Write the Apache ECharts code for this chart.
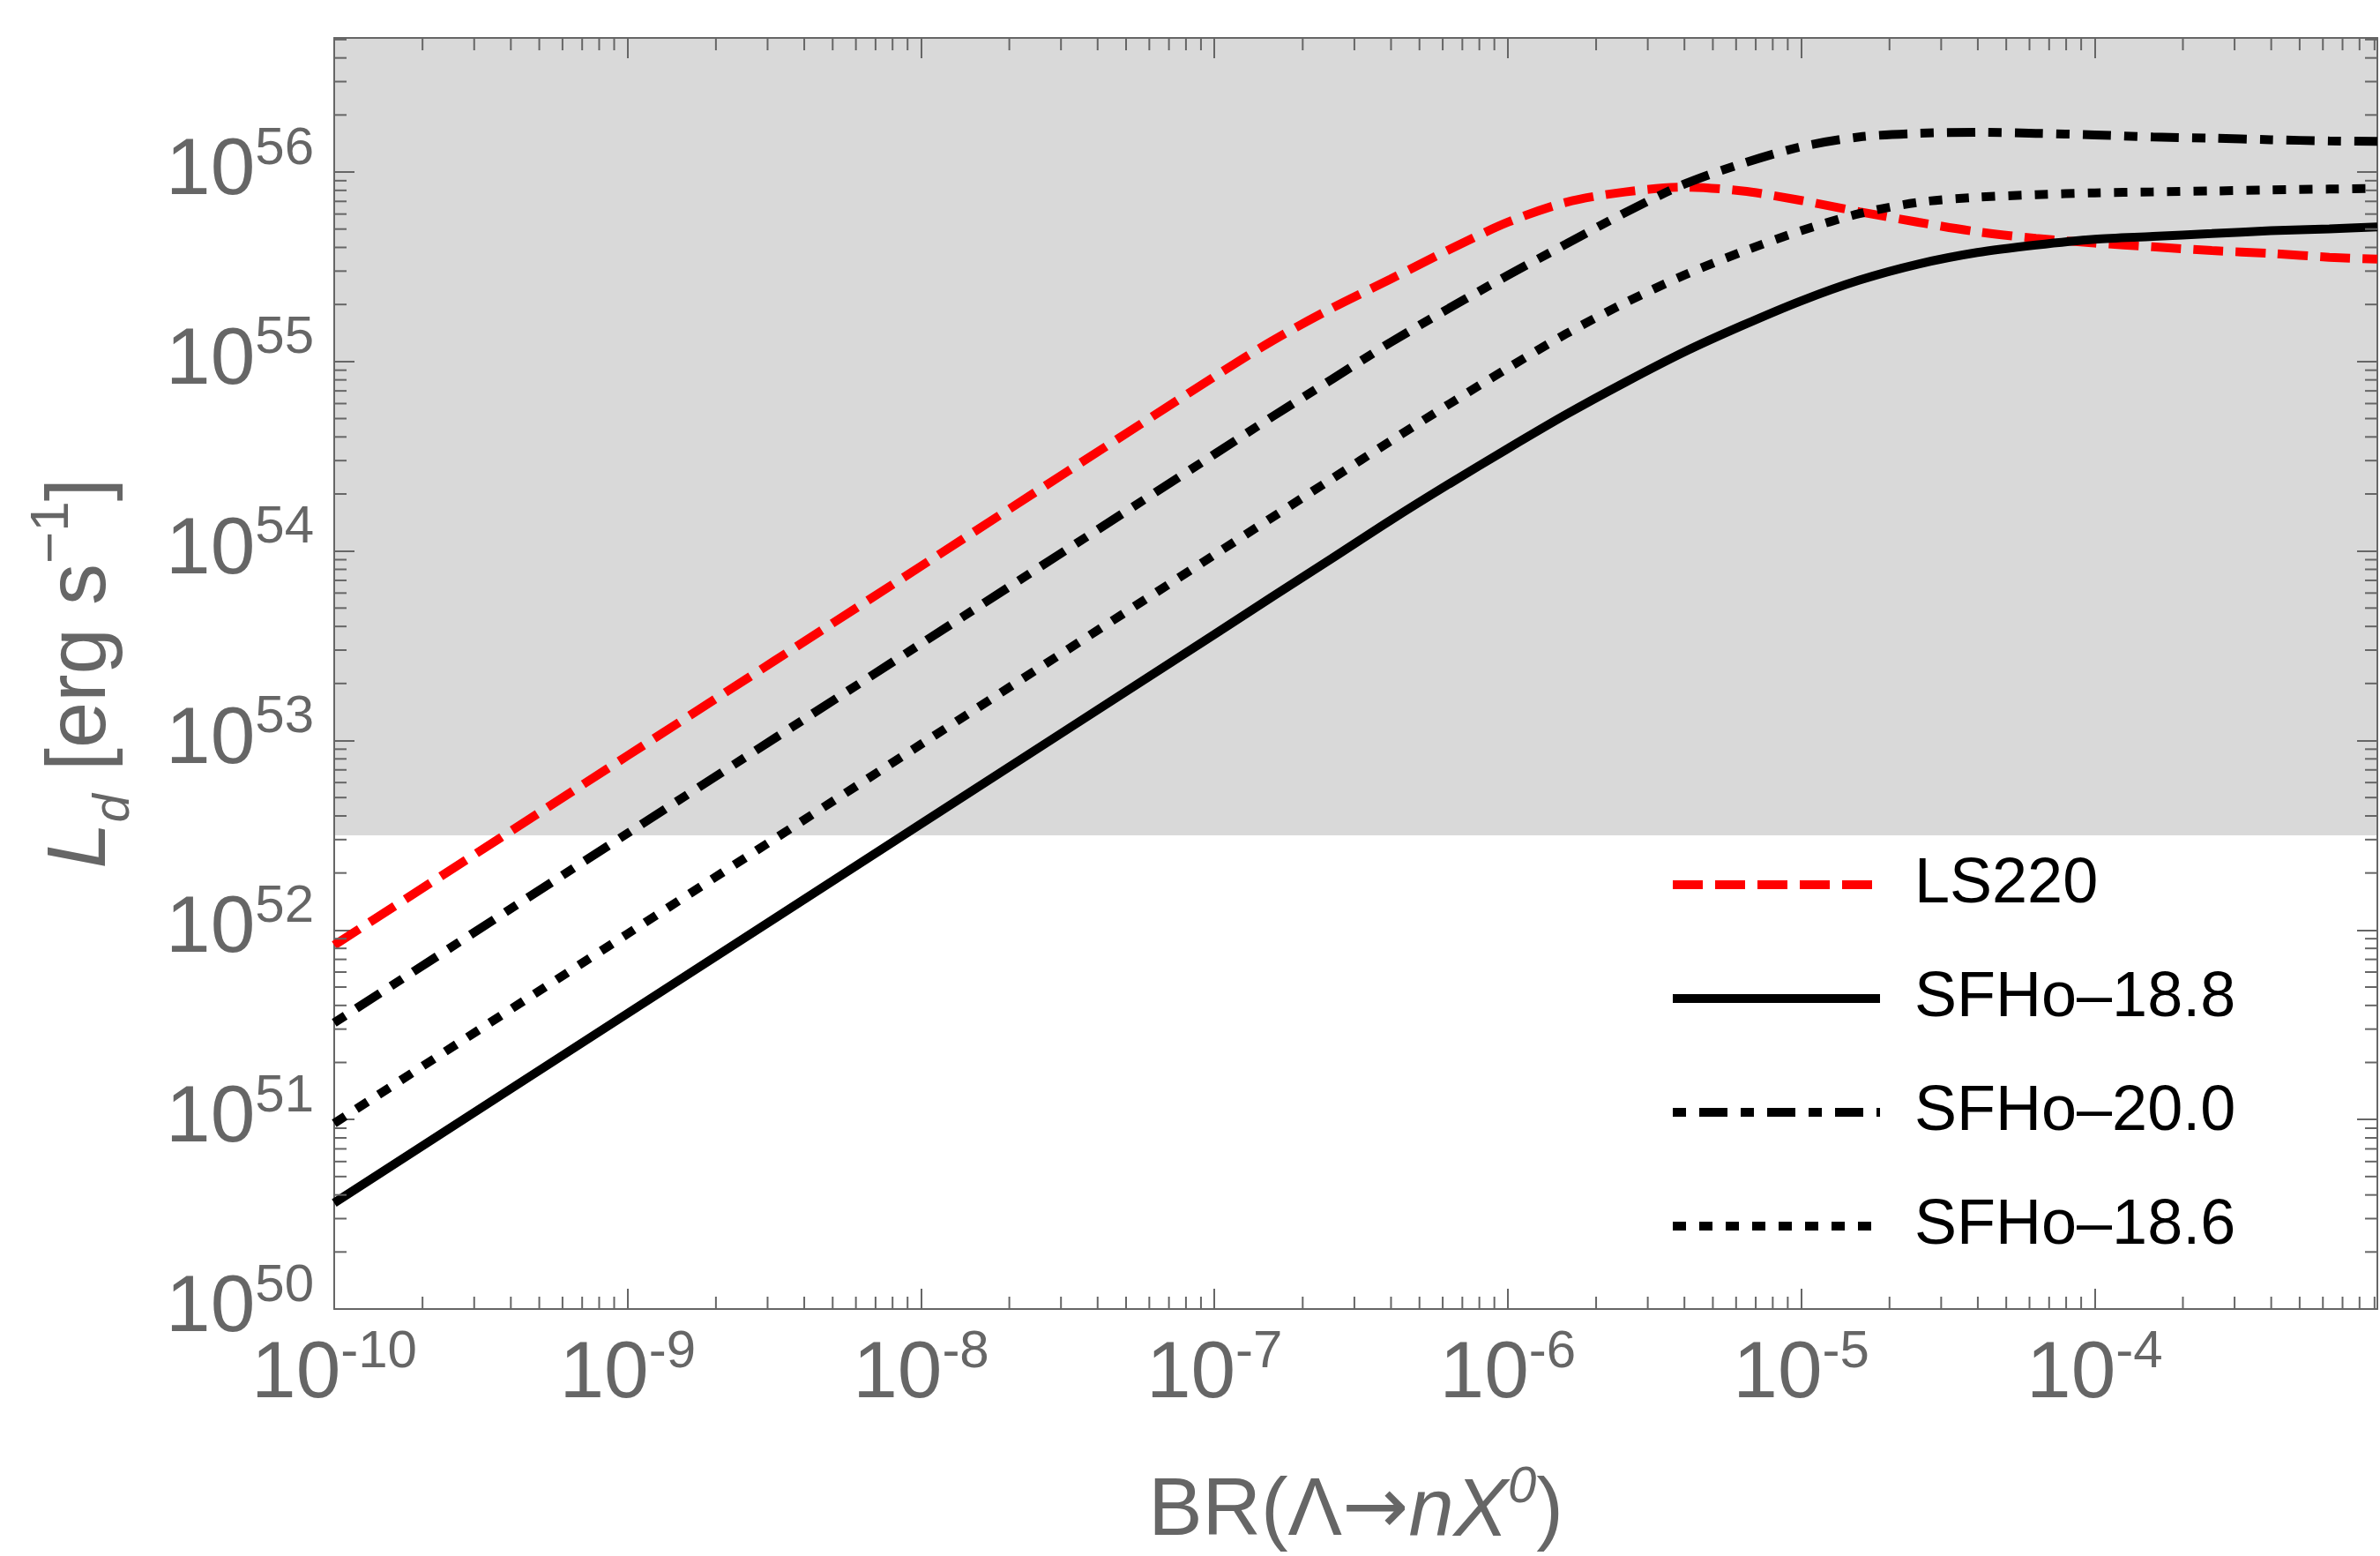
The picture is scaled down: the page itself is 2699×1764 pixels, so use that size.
<!DOCTYPE html>
<html><head><meta charset="utf-8">
<script src="https://cdn.jsdelivr.net/npm/echarts@6/dist/echarts.min.js"></script>
<style>html,body{margin:0;padding:0;background:#fff}#c{width:2699px;height:1764px}</style>
</head><body><div id="c"></div>
<script>
// ---- data ----
const BR = [1e-10, 1e-9, 1e-8, 1e-7, 1.58e-7, 2.51e-7, 3.98e-7, 6.31e-7, 1e-6, 1.58e-6, 2.51e-6, 3.98e-6,
            6.31e-6, 1e-5, 1.58e-5, 2.51e-5, 3.98e-5, 6.31e-5, 1e-4, 1.58e-4, 2.51e-4, 3.98e-4, 6.31e-4, 9.2e-4];
const LS220 = [8.32e51, 8.32e52, 8.32e53, 8.32e54, 1.29e55, 1.91e55, 2.72e55, 3.89e55, 5.43e55, 6.92e55, 7.85e55, 8.32e55,
               7.94e55, 7.08e55, 6.17e55, 5.43e55, 4.84e55, 4.47e55, 4.22e55, 4.03e55, 3.85e55, 3.72e55, 3.55e55, 3.47e55];
const SFHo_18_8 = [3.63e50, 3.63e51, 3.63e52, 3.63e53, 5.75e53, 9.12e53, 1.45e54, 2.26e54, 3.47e54, 5.25e54, 7.76e54, 1.12e55,
                   1.55e55, 2.09e55, 2.69e55, 3.27e55, 3.76e55, 4.12e55, 4.42e55, 4.57e55, 4.73e55, 4.90e55, 5.01e55, 5.13e55];
const SFHo_20_0 = [3.24e51, 3.24e52, 3.24e53, 3.24e54, 5.13e54, 8.04e54, 1.26e55, 1.91e55, 2.85e55, 4.17e55, 6.10e55, 8.61e55,
                   1.11e56, 1.36e56, 1.53e56, 1.60e56, 1.62e56, 1.60e56, 1.57e56, 1.53e56, 1.51e56, 1.48e56, 1.46e56, 1.45e56];
const SFHo_18_6 = [9.55e50, 9.55e51, 9.55e52, 9.55e53, 1.51e54, 2.40e54, 3.80e54, 5.96e54, 9.23e54, 1.40e55, 2.04e55, 2.85e55,
                   3.80e55, 4.90e55, 6.03e55, 6.92e55, 7.36e55, 7.59e55, 7.76e55, 7.85e55, 7.94e55, 8.04e55, 8.13e55, 8.20e55];
const SERIES_NAMES = ['LS220', 'SFHo\u201318.8', 'SFHo\u201320.0', 'SFHo\u201318.6'];
const X_TICK_EXPONENTS = ['-10', '-9', '-8', '-7', '-6', '-5', '-4'];
const Y_TICK_EXPONENTS = ['50', '51', '52', '53', '54', '55', '56'];
const X_MIN = 1e-10, X_MAX = 9.2e-4, Y_MIN = 1e50, Y_MAX = 5.1e56;
const SHADE_LOW = 3.16e52;

// ---- style ----
const GRAY = '#666666';
const NARROW = '"Liberation Sans Narrow", "Liberation Sans", Arial, sans-serif';
const SANS = '"Liberation Sans", Arial, sans-serif';
const ARROWFONT = '"DejaVu Sans", "Liberation Sans", sans-serif';

function pairs(ys) { return BR.map((x, i) => [x, ys[i]]); }
function expOf(v) { return Math.round(Math.log10(v)); }

const tickRich = {
  b: { fontSize: 91, fontFamily: NARROW, color: GRAY },
  s: { fontSize: 60, fontFamily: NARROW, color: GRAY, padding: [0, 0, 52, 0] }
};
function xLabel(v) {
  const e = String(expOf(v));
  return X_TICK_EXPONENTS.indexOf(e) >= 0 ? '{b|10}{s|' + e + '}' : '';
}
function yLabel(v) {
  const e = String(expOf(v));
  return Y_TICK_EXPONENTS.indexOf(e) >= 0 ? '{b|10}{s|' + e + '}' : '';
}

const axisLine = { show: true, lineStyle: { color: GRAY, width: 2 } };
const majorTick = { show: true, inside: true, length: 23, lineStyle: { color: GRAY, width: 2 } };

// minor tick positions (2..9 x each decade)
const minorTicks = [];
for (let e = -10; e <= -4; e++) for (let k = 2; k <= 9; k++) {
  const v = k * Math.pow(10, e); if (v < X_MAX) minorTicks.push([v, Y_MIN, 0]);
}
for (let e = 50; e <= 56; e++) for (let k = 2; k <= 9; k++) {
  const v = k * Math.pow(10, e); if (v < Y_MAX) minorTicks.push([X_MIN, v, 1]);
}

const lineBase = { type: 'line', xAxisIndex: 0, yAxisIndex: 0, showSymbol: false, symbol: 'none', smooth: 0.3, z: 3, silent: true };

const option = {
  animation: false,
  backgroundColor: '#ffffff',
  grid: { left: 379, right: 3, top: 43, bottom: 280, containLabel: false, outerBoundsMode: 'none' },
  legend: {
    data: SERIES_NAMES,
    orient: 'vertical',
    left: 1887, top: 961,
    itemWidth: 235, itemHeight: 74, itemGap: 55,
    selectedMode: false,
    lineStyle: { width: 10 },
    itemStyle: { opacity: 0, borderWidth: 0 },
    textStyle: { fontSize: 72, fontFamily: SANS, color: '#000', lineHeight: 74, padding: [0, 0, 0, 34] }
  },
  xAxis: [
    {
      type: 'log', logBase: 10, min: X_MIN, max: X_MAX, interval: 1, position: 'bottom',
      axisLine, axisTick: majorTick, splitLine: { show: false },
      axisLabel: { margin: 19, showMaxLabel: false, formatter: xLabel, rich: tickRich },
      name: '{r|BR(\u039B}{a|\u2192}{i|nX}{s|0}{r|)}',
      nameLocation: 'middle', nameGap: 174,
      nameTextStyle: {
        rich: {
          r: { fontSize: 92, fontFamily: SANS, color: GRAY },
          a: { fontSize: 90, fontFamily: ARROWFONT, color: GRAY },
          i: { fontSize: 92, fontFamily: SANS, color: GRAY, fontStyle: 'italic' },
          s: { fontSize: 58, fontFamily: SANS, color: GRAY, fontStyle: 'italic', padding: [0, 0, 56, 0] }
        }
      }
    },
    {
      type: 'log', logBase: 10, min: X_MIN, max: X_MAX, interval: 1, position: 'top',
      axisLine, axisTick: majorTick, axisLabel: { show: false }, splitLine: { show: false }
    }
  ],
  yAxis: [
    {
      type: 'log', logBase: 10, min: Y_MIN, max: Y_MAX, interval: 1, position: 'left',
      axisLine, axisTick: majorTick, splitLine: { show: false },
      axisLabel: { margin: 23, showMaxLabel: false, formatter: yLabel, rich: tickRich },
      name: '{i|L}{d|d}{r| [erg s}{s|\u22121}{r|]}',
      nameLocation: 'middle', nameGap: 220, nameRotate: 90,
      nameTextStyle: {
        rich: {
          r: { fontSize: 94, fontFamily: SANS, color: GRAY },
          i: { fontSize: 94, fontFamily: SANS, color: GRAY, fontStyle: 'italic' },
          d: { fontSize: 58, fontFamily: SANS, color: GRAY, fontStyle: 'italic', padding: [74, 0, 0, 0] },
          s: { fontSize: 62, fontFamily: SANS, color: GRAY, padding: [0, 0, 66, 0] }
        }
      }
    },
    {
      type: 'log', logBase: 10, min: Y_MIN, max: Y_MAX, interval: 1, position: 'right',
      axisLine, axisTick: majorTick, axisLabel: { show: false }, splitLine: { show: false }
    }
  ],
  series: [
    {
      name: 'shade', type: 'custom', xAxisIndex: 0, yAxisIndex: 0, z: -1, silent: true, clip: false,
      data: [[X_MIN, SHADE_LOW, X_MAX, Y_MAX]],
      encode: { x: [0, 2], y: [1, 3] },
      renderItem(params, api) {
        const p0 = api.coord([api.value(0), api.value(1)]);
        const p1 = api.coord([api.value(2), api.value(3)]);
        return { type: 'rect', shape: { x: p0[0], y: p1[1], width: p1[0] - p0[0], height: p0[1] - p1[1] },
                 style: { fill: '#d9d9d9' } };
      }
    },
    {
      name: 'minorTicks', type: 'custom', xAxisIndex: 0, yAxisIndex: 0, z: 6, silent: true, clip: false,
      data: minorTicks, encode: { x: 0, y: 1 },
      renderItem(params, api) {
        const cs = params.coordSys;
        const p = api.coord([api.value(0), api.value(1)]);
        const st = { stroke: GRAY, lineWidth: 2 };
        if (api.value(2) === 0) {
          return { type: 'group', children: [
            { type: 'line', shape: { x1: p[0], y1: cs.y + cs.height, x2: p[0], y2: cs.y + cs.height - 14 }, style: st },
            { type: 'line', shape: { x1: p[0], y1: cs.y, x2: p[0], y2: cs.y + 14 }, style: st }
          ] };
        }
        return { type: 'group', children: [
          { type: 'line', shape: { x1: cs.x, y1: p[1], x2: cs.x + 14, y2: p[1] }, style: st },
          { type: 'line', shape: { x1: cs.x + cs.width, y1: p[1], x2: cs.x + cs.width - 14, y2: p[1] }, style: st }
        ] };
      }
    },
    Object.assign({}, lineBase, { name: SERIES_NAMES[0], data: pairs(LS220),
      lineStyle: { color: '#ff0000', width: 10, type: [34, 14], cap: 'butt' }, itemStyle: { color: '#ff0000' } }),
    Object.assign({}, lineBase, { name: SERIES_NAMES[1], data: pairs(SFHo_18_8),
      lineStyle: { color: '#000000', width: 10, type: 'solid', cap: 'butt' }, itemStyle: { color: '#000000' } }),
    Object.assign({}, lineBase, { name: SERIES_NAMES[2], data: pairs(SFHo_20_0),
      lineStyle: { color: '#000000', width: 10, type: [15, 15, 32, 15], cap: 'butt' }, itemStyle: { color: '#000000' } }),
    Object.assign({}, lineBase, { name: SERIES_NAMES[3], data: pairs(SFHo_18_6),
      lineStyle: { color: '#000000', width: 10, type: [15, 15], cap: 'butt' }, itemStyle: { color: '#000000' } })
  ]
};

const chart = echarts.init(document.getElementById('c'), null, { renderer: 'canvas', width: 2699, height: 1764 });
chart.setOption(option);
</script>
</body></html>
